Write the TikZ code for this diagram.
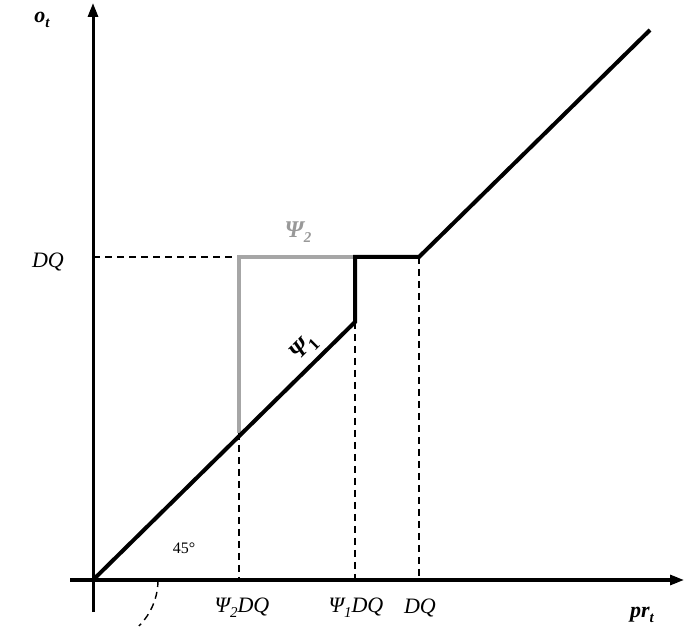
\documentclass[tikz,border=0pt]{standalone}
\usepackage{fontspec}
\setmainfont{Liberation Serif}
\usetikzlibrary{arrows.meta}
\begin{document}
\begin{tikzpicture}[x=1pt,y=-1pt,
  ax/.style={line width=3pt,-{Triangle[length=14pt,width=10pt]}},
  curve/.style={line width=4pt},
  grey/.style={line width=3.5pt,color=black!35},
  dsh/.style={line width=1.6pt,dash pattern=on 7pt off 5pt},
  lab/.style={font=\fontsize{22}{24}\selectfont\itshape}]
\useasboundingbox (0,0) rectangle (689,644);
\coordinate (O) at (93,580);
\coordinate (A) at (239,433);
\coordinate (B) at (239,257);
\coordinate (C) at (355,257);
\coordinate (D) at (355,322);
\coordinate (E) at (419,257);
\coordinate (F) at (650,30);
\coordinate (Y0) at (93,257);
\coordinate (Ya) at (239,580);
\coordinate (Yb) at (355,580);
\coordinate (Yc) at (419,580);
\coordinate (xs) at (70,580);
\coordinate (xe) at (684,580);
\coordinate (ys) at (93,612);
\coordinate (ye) at (93,3);
\draw[ax] (xs) -- (xe);
\draw[ax] (ys) -- (ye);
\draw[dsh] (Y0) -- (B);
\draw[dsh] (A) -- (Ya);
\draw[dsh] (D) -- (Yb);
\draw[dsh] (E) -- (Yc);
\draw[grey] (A) -- (B) -- (C);
\draw[curve,line join=miter] (O) -- (D) -- (C) -- (E) -- (F);
\draw[dsh,line width=1.4pt] ([xshift=65pt]O) arc[start angle=0,end angle=-45,radius=65pt];
\node (lo) at (42,20) {\fontsize{22}{24}\selectfont\bfseries\itshape o\kern0pt\raisebox{-5pt}{\fontsize{15}{16}\selectfont t}};
\node[lab] (ldq) at (48,262) {DQ};
\node (lp2) at (298,232) [text=black!40] {\fontsize{24}{26}\selectfont\bfseries\itshape Ψ\raisebox{-5pt}{\fontsize{15}{16}\selectfont 2}};
\node (lp1) at (304,348) [rotate=45] {\fontsize{24}{26}\selectfont\bfseries\itshape Ψ\raisebox{-4pt}{\fontsize{17}{18}\selectfont\upshape 1}};
\node (l45) at (184,548) {\fontsize{16}{18}\selectfont 45°};
\node[lab] (lx1) at (242,608) {Ψ\raisebox{-5pt}{\fontsize{15}{16}\selectfont 2}DQ};
\node[lab] (lx2) at (356,608) {Ψ\raisebox{-5pt}{\fontsize{15}{16}\selectfont 1}DQ};
\node[lab] (lx3) at (420,608) {DQ};
\node (lpr) at (642,615) {\fontsize{22}{24}\selectfont\bfseries\itshape pr\raisebox{-5pt}{\fontsize{15}{16}\selectfont t}};
\end{tikzpicture}
\end{document}
